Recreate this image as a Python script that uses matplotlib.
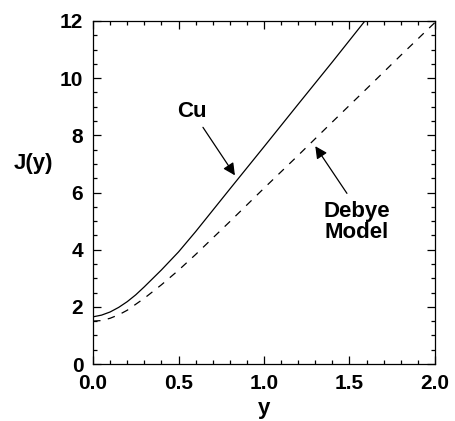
import matplotlib
matplotlib.use("Agg")
import matplotlib.pyplot as plt
from matplotlib.ticker import MultipleLocator

plt.rcParams['font.family'] = ['Liberation Sans', 'DejaVu Sans']
plt.rcParams['font.weight'] = 'bold'

# Cu curve (solid)
x_cu = [0.0, 0.05, 0.1, 0.15, 0.2, 0.25, 0.3, 0.4, 0.5, 0.6, 0.8, 1.0, 1.2, 1.4, 1.59]
J_cu = [1.65, 1.71, 1.82, 1.98, 2.18, 2.42, 2.7, 3.29, 3.92, 4.63, 6.12, 7.6, 9.09, 10.57, 12.0]

# Debye model (dashed)
x_debye = [0.0, 0.05, 0.1, 0.15, 0.2, 0.3, 0.4, 0.5, 0.6, 0.8, 1.0, 1.2, 1.4, 1.6, 1.8, 2.0]
J_debye = [1.5, 1.52, 1.6, 1.72, 1.88, 2.3, 2.77, 3.28, 3.83, 4.98, 6.15, 7.3, 8.47, 9.63, 10.8, 11.95]

x_ticks = [0.0, 0.5, 1.0, 1.5, 2.0]
x_tick_labels = ["0.0", "0.5", "1.0", "1.5", "2.0"]
y_ticks = [0, 2, 4, 6, 8, 10, 12]
y_tick_labels = ["0", "2", "4", "6", "8", "10", "12"]

fig = plt.figure(figsize=(4.55, 4.21), dpi=100)
ax = fig.add_axes([93/455, 57/421, 342/455, 343/421])

ax.plot(x_cu, J_cu, color='black', lw=0.9)
ax.plot(x_debye, J_debye, color='black', lw=0.9, linestyle=(0, (6, 6)))

ax.set_xlim(0, 2.0)
ax.set_ylim(0, 12)
ax.set_xticks(x_ticks)
ax.set_xticklabels(x_tick_labels)
ax.set_yticks(y_ticks)
ax.set_yticklabels(y_tick_labels)
ax.xaxis.set_minor_locator(MultipleLocator(0.1))
ax.yaxis.set_minor_locator(MultipleLocator(0.5))
ax.tick_params(which='both', direction='in', top=True, right=True, width=0.9)
ax.tick_params(which='major', length=6, labelsize=15, pad=7)
ax.tick_params(which='minor', length=3)
for s in ax.spines.values():
    s.set_linewidth(0.9)

ax.set_xlabel('y', fontsize=16, fontweight='bold', labelpad=4)
ax.set_ylabel('J(y)', fontsize=16, fontweight='bold', rotation=0, va='center')
ax.yaxis.set_label_coords(-0.175, 7.0/12)

arrow = dict(arrowstyle='-|>', color='black', lw=0.9, mutation_scale=18, shrinkA=0, shrinkB=0)
ax.annotate('', xy=(0.83, 6.6), xytext=(0.643, 8.28), arrowprops=arrow)
ax.text(0.58, 8.83, 'Cu', fontsize=16, fontweight='bold', ha='center', va='center')
ax.annotate('', xy=(1.30, 7.62), xytext=(1.485, 5.97), arrowprops=arrow)
ax.text(1.544, 4.98, 'Debye\nModel', fontsize=16, fontweight='bold', ha='center', va='center',
        linespacing=1.0)

fig.savefig('out.png', dpi=100)
